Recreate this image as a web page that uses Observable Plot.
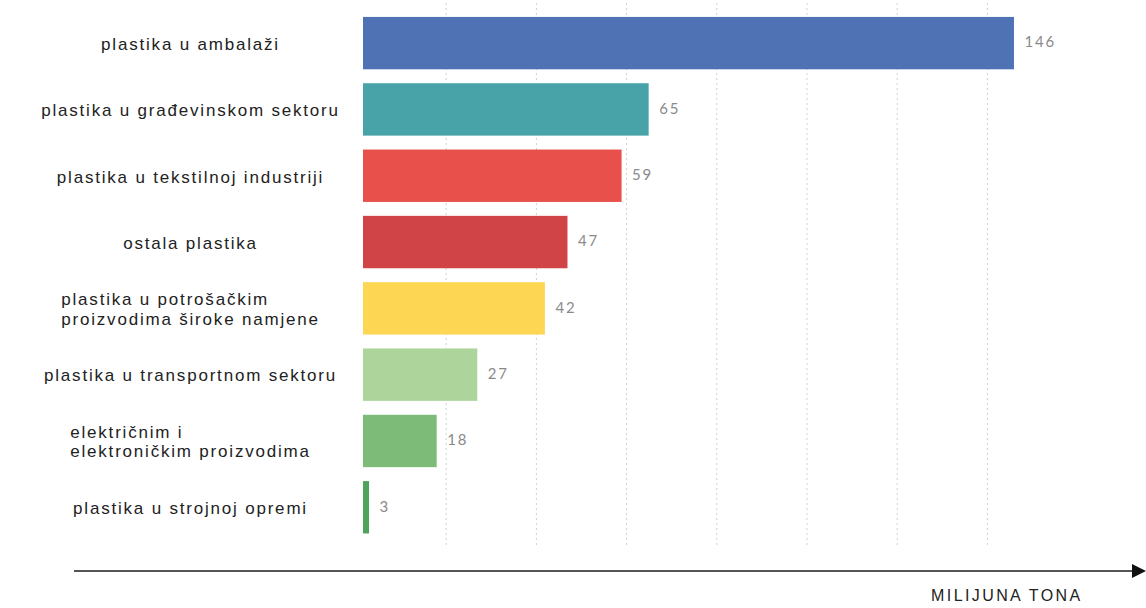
<!DOCTYPE html>
<html>
<head>
<meta charset="utf-8">
<script src="https://cdn.jsdelivr.net/npm/d3@7"></script>
<script src="https://cdn.jsdelivr.net/npm/@observablehq/plot@0.6"></script>
<style>
  body { margin: 0; background: #fff; }
</style>
</head>
<body>
<div id="chart"></div>
<script>
const categories = [
  "plastika u ambalaži",
  "plastika u građevinskom sektoru",
  "plastika u tekstilnoj industriji",
  "ostala plastika",
  "plastika u potrošačkim\nproizvodima široke namjene",
  "plastika u transportnom sektoru",
  "električnim i\nelektroničkim proizvodima",
  "plastika u strojnoj opremi"
];
const values = [146, 65, 59, 47, 42, 27, 18, 3];
const gridTicks = [20, 40, 60, 80, 100, 120, 140];
const unitLabel = "MILIJUNA TONA";
const palette = ["#4e72b3", "#47a3a7", "#e8504b", "#d04347", "#fdd654", "#acd49b", "#7dbc78", "#4fa35c"];

const data = categories.map((c, i) => ({cat: c, value: values[i]}));

const W = 1146, H = 608;
const mLeft = 355.5, mRight = 68.9, mTop = 3, mBottom = 60.6;
const labelFamily = "'Liberation Sans', Arial, sans-serif";
const labelSpacing = 1.8;
const valueSpacing = 1.8;
const unitSpacing = 2.4;
const labelCenter = 190;

const ctx = document.createElement("canvas").getContext("2d");
ctx.font = "17px " + labelFamily;
function measure(s) {
  return ctx.measureText(s).width + labelSpacing * s.length;
}

const labelMarks = categories.map(c => {
  const w = d3.max(c.split("\n"), measure);
  const left = labelCenter - w / 2;
  return Plot.text([c], {
    y: d => d,
    text: d => d,
    frameAnchor: "left",
    textAnchor: "start",
    dx: left - mLeft,
    fontSize: 17,
    fontFamily: labelFamily,
    fill: "#222",
    lineHeight: 1.15
  });
});

const svg = Plot.plot({
  width: W,
  height: H,
  marginLeft: mLeft,
  marginRight: mRight,
  marginTop: mTop,
  marginBottom: mBottom,
  style: {fontFamily: labelFamily, background: "#fff"},
  x: {domain: [0, 160], axis: null},
  y: {domain: categories, axis: null, padding: 0.21, round: false},
  color: {domain: categories, range: palette},
  marks: [
    Plot.ruleX(gridTicks, {stroke: "#cfcfcf", strokeDasharray: "2,3", strokeWidth: 1}),
    Plot.barX(data, {y: "cat", x: "value", fill: "cat", insetLeft: 7.5}),
    Plot.text(data, {
      y: "cat", x: "value", text: d => String(d.value),
      dx: 10, dy: -1, textAnchor: "start",
      fill: "#8a8a8a", fontSize: 15, fontFamily: "Lato, 'Open Sans', sans-serif"
    }),
    ...labelMarks,
    Plot.text([unitLabel], {
      frameAnchor: "bottom-right", textAnchor: "end", dy: 53, dx: 5,
      fontSize: 16, fill: "#222",
      fontFamily: labelFamily
    })
  ]
});

// letter spacing (the reference text is visibly wide-set)
const labelLines = new Set(categories.flatMap(c => c.split("\n")));
const valueStrings = new Set(values.map(String));
d3.select(svg).selectAll("text, tspan").each(function () {
  if (this.tagName === "text" && this.querySelector("tspan")) return;
  const t = this.textContent;
  let ls = null;
  if (labelLines.has(t)) ls = labelSpacing;
  else if (valueStrings.has(t)) ls = valueSpacing;
  else if (t === unitLabel) ls = unitSpacing;
  if (ls != null) {
    this.setAttribute("letter-spacing", ls);
    this.style.letterSpacing = ls + "px";
  }
});

// decorative axis line with arrowhead below the plot
const axisY = H - 37;
const g = d3.select(svg).append("g").attr("aria-label", "axis-arrow");
g.append("line")
  .attr("x1", 74).attr("x2", 1136)
  .attr("y1", axisY).attr("y2", axisY)
  .attr("stroke", "#555").attr("stroke-width", 2);
g.append("path")
  .attr("d", `M1132,${axisY - 7}L1146,${axisY}L1132,${axisY + 7}Z`)
  .attr("fill", "#111");

document.getElementById("chart").append(svg);
</script>
</body>
</html>
